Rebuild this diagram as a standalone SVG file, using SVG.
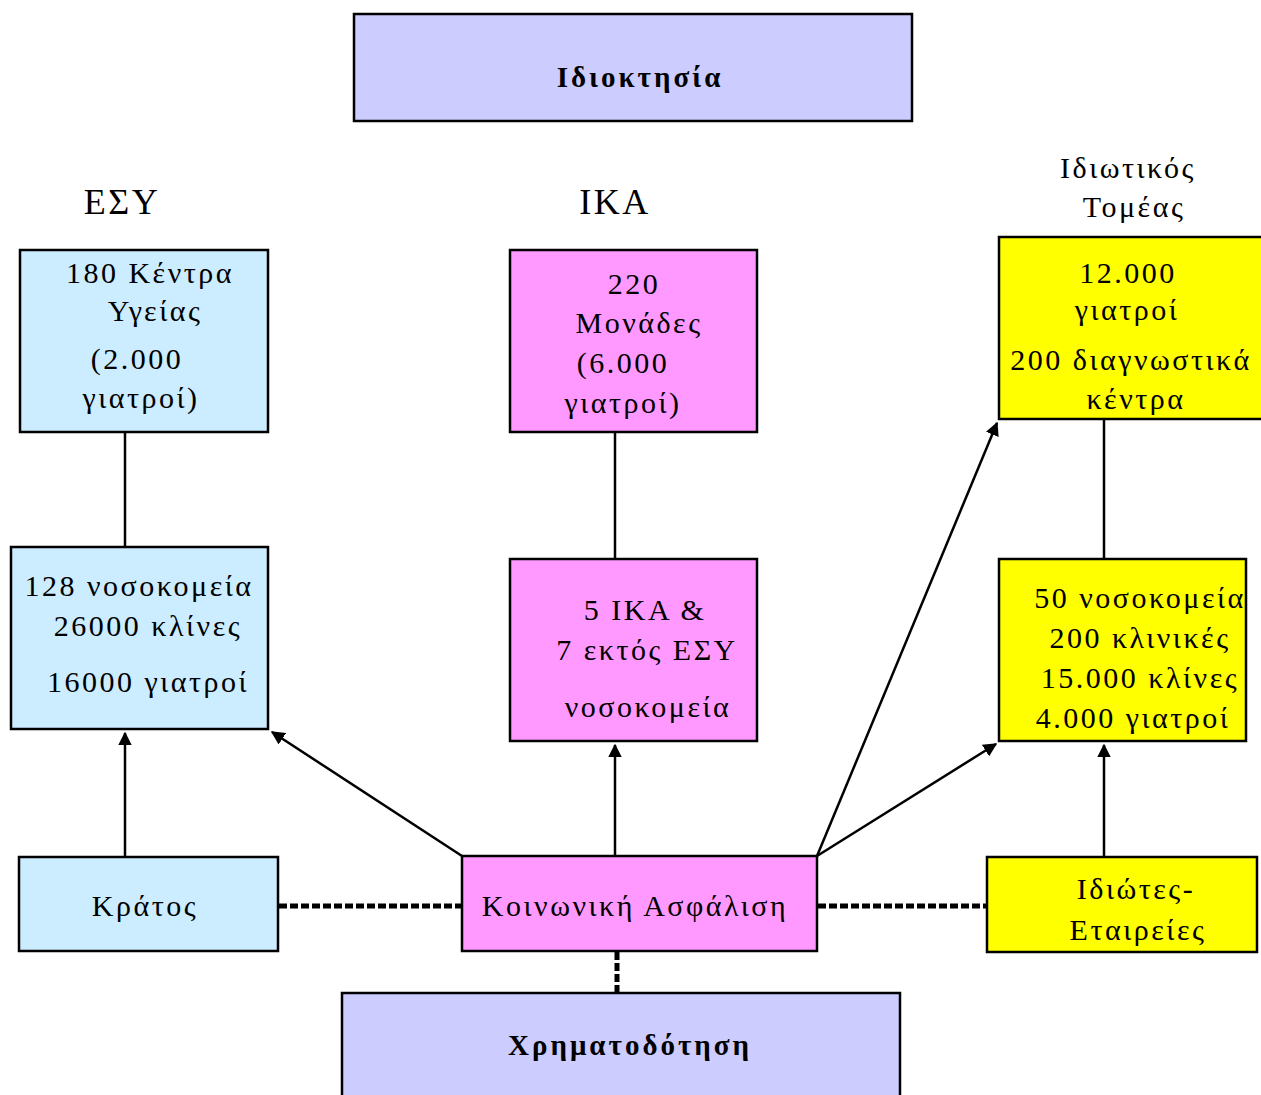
<svg xmlns="http://www.w3.org/2000/svg" width="1261" height="1095" viewBox="0 0 1261 1095">
<defs>
<style>
.box{stroke:#000;stroke-width:2.5}
.b{fill:#CCECFF}.p{fill:#FF99FF}.y{fill:#FFFF00}.l{fill:#CCCCFF}
text{font-family:"Liberation Serif","DejaVu Serif",serif;font-size:30px;letter-spacing:2.5px;fill:#000;text-anchor:middle}
.bold{font-weight:bold;font-size:29px;letter-spacing:3px}
.hdr{font-size:36px}
.line{stroke:#000;stroke-width:2.5;fill:none}
.dot{stroke:#000;stroke-width:5;stroke-dasharray:8 3;fill:none}
</style>
<marker id="ah" viewBox="0 0 10 10" refX="9" refY="5" markerWidth="5.5" markerHeight="5.5" orient="auto" markerUnits="strokeWidth">
<path d="M0,0 L10,5 L0,10 z" fill="#000"/>
</marker>
</defs>
<rect width="1261" height="1095" fill="#fff"/>
<g id="connectors">
<line class="line" x1="125" y1="432" x2="125" y2="547"/>
<line class="line" x1="125" y1="857" x2="125" y2="733" marker-end="url(#ah)"/>
<line class="line" x1="462" y1="856" x2="272" y2="732" marker-end="url(#ah)"/>
<line class="line" x1="615" y1="432" x2="615" y2="559"/>
<line class="line" x1="615" y1="856" x2="615" y2="745" marker-end="url(#ah)"/>
<line class="line" x1="817" y1="856" x2="996" y2="744" marker-end="url(#ah)"/>
<line class="line" x1="817" y1="856" x2="997" y2="423" marker-end="url(#ah)"/>
<line class="line" x1="1104" y1="419" x2="1104" y2="559"/>
<line class="line" x1="1104" y1="857" x2="1104" y2="745" marker-end="url(#ah)"/>
<line class="dot" x1="279" y1="906" x2="462" y2="906"/>
<line class="dot" x1="818" y1="906" x2="990" y2="906"/>
<line class="dot" x1="617" y1="952" x2="617" y2="993"/>
</g>
<g id="ownership"><rect class="box l" x="354" y="14" width="558" height="107"/><text class="bold" x="640" y="87">Ιδιοκτησία</text></g>
<g id="financing"><rect class="box l" x="342" y="993" width="558" height="110"/><text class="bold" x="630" y="1055">Χρηματοδότηση</text></g>
<g id="label-esy"><text class="hdr" x="122" y="214">ΕΣΥ</text></g>
<g id="label-ika"><text class="hdr" x="615" y="214">ΙΚΑ</text></g>
<g id="label-private"><text x="1128" y="178">Ιδιωτικός</text><text x="1134" y="217">Τομέας</text></g>
<g id="esy-centers"><rect class="box b" x="20" y="250" width="248" height="182"/>
<text x="150" y="283">180 Κέντρα</text><text x="155" y="321">Υγείας</text><text x="137" y="369">(2.000</text><text x="141" y="408">γιατροί)</text></g>
<g id="esy-hospitals"><rect class="box b" x="11" y="547" width="257" height="182"/>
<text x="139" y="596">128 νοσοκομεία</text><text x="148" y="636">26000 κλίνες</text><text x="148" y="692">16000 γιατροί</text></g>
<g id="kratos"><rect class="box b" x="19" y="857" width="259" height="94"/><text x="145" y="916">Κράτος</text></g>
<g id="ika-units"><rect class="box p" x="510" y="250" width="247" height="182"/>
<text x="634" y="294">220</text><text x="639" y="333">Μονάδες</text><text x="623" y="373">(6.000</text><text x="623" y="413">γιατροί)</text></g>
<g id="ika-hospitals"><rect class="box p" x="510" y="559" width="247" height="182"/>
<text x="645" y="620">5 ΙΚΑ &amp;</text><text x="647" y="660">7 εκτός ΕΣΥ</text><text x="648" y="717">νοσοκομεία</text></g>
<g id="social-insurance"><rect class="box p" x="462" y="856" width="355" height="95"/><text x="635" y="916">Κοινωνική Ασφάλιση</text></g>
<g id="private-doctors"><rect class="box y" x="999" y="237" width="275" height="182"/>
<text x="1128" y="283">12.000</text><text x="1127" y="320">γιατροί</text><text x="1131" y="370">200 διαγνωστικά</text><text x="1136" y="409">κέντρα</text></g>
<g id="private-hospitals"><rect class="box y" x="999" y="559" width="247" height="182"/>
<text x="1140" y="608">50 νοσοκομεία</text><text x="1140" y="648">200 κλινικές</text><text x="1140" y="688">15.000 κλίνες</text><text x="1133" y="728">4.000 γιατροί</text></g>
<g id="private-companies"><rect class="box y" x="987" y="857" width="270" height="95"/>
<text x="1136" y="899">Ιδιώτες-</text><text x="1138" y="940">Εταιρείες</text></g>
</svg>
